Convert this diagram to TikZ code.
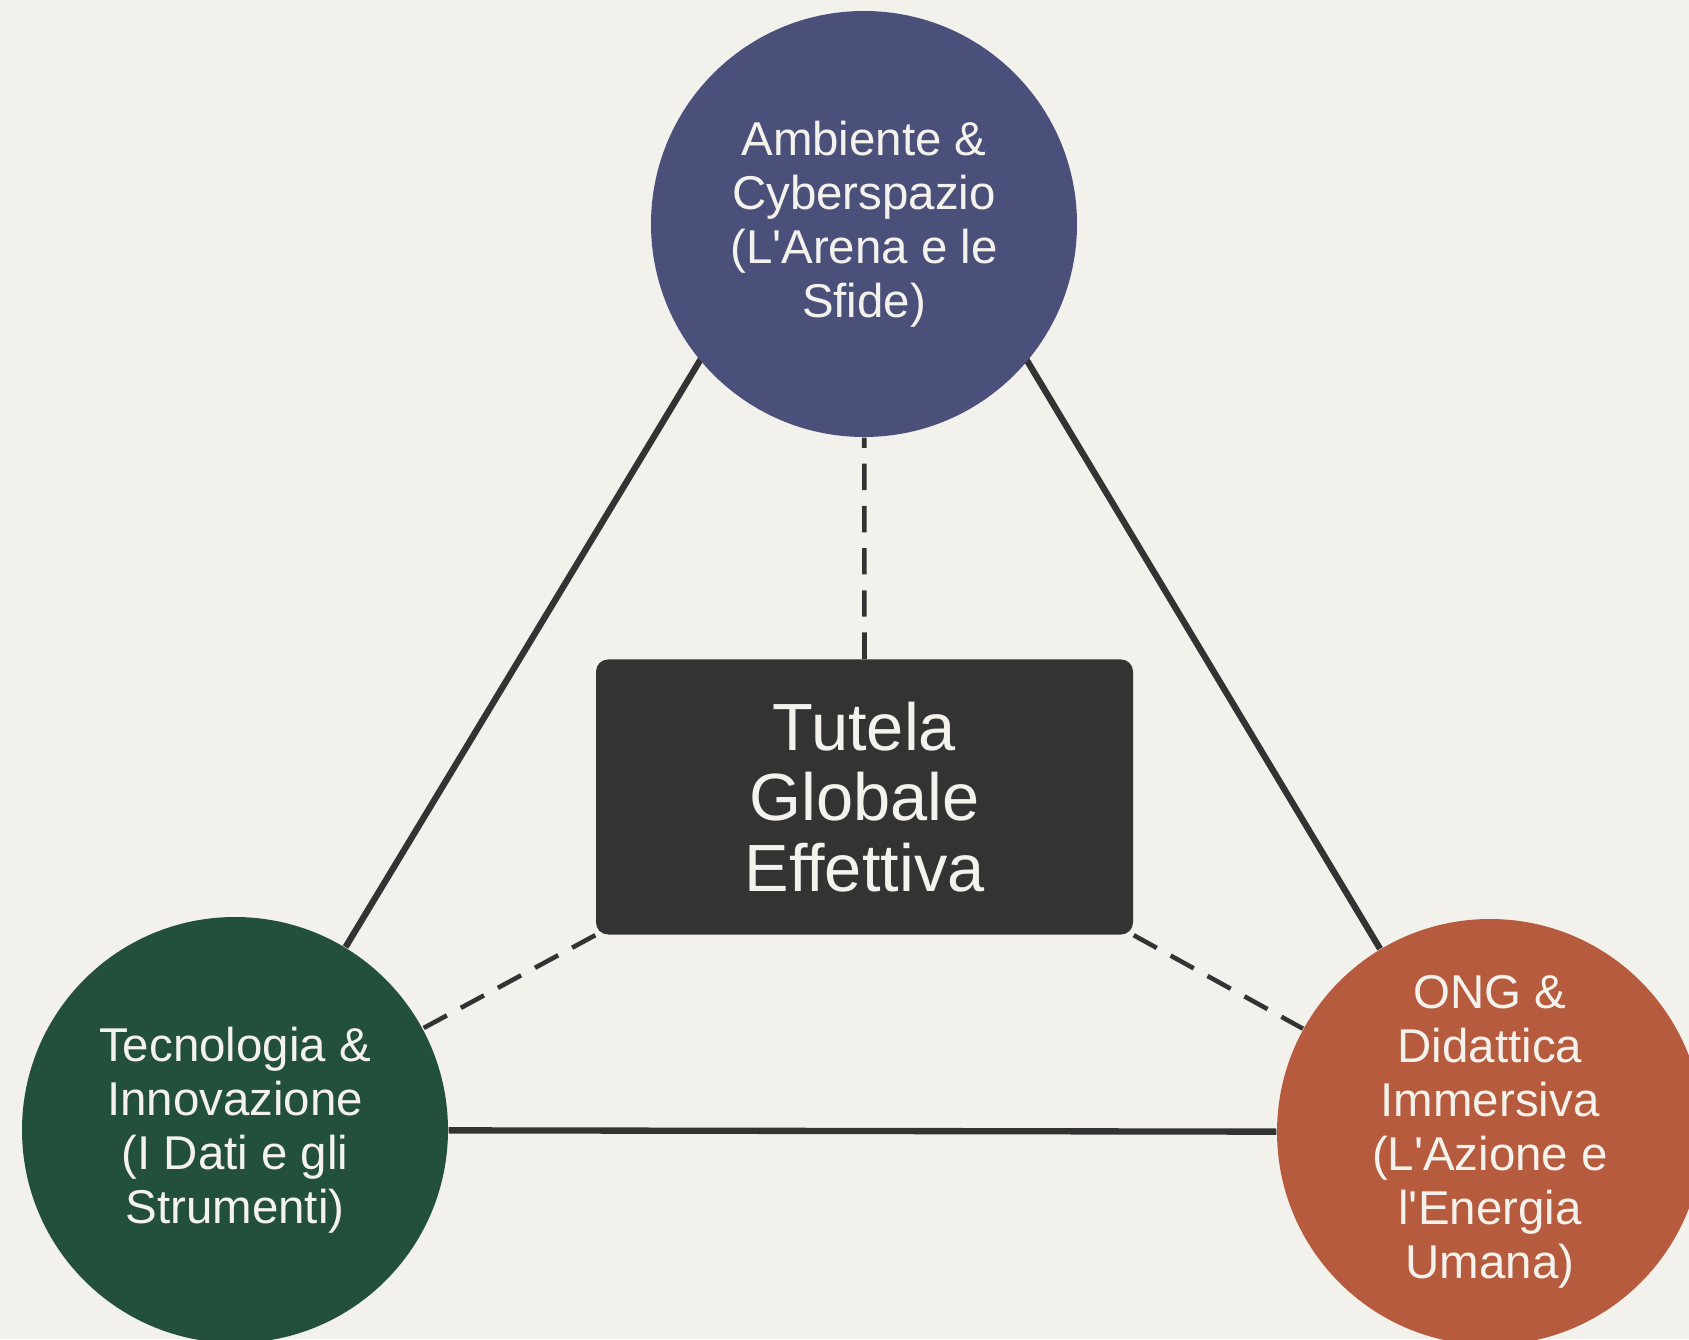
\documentclass[tikz,border=0pt]{standalone}
\usepackage{fontspec}
\setmainfont{Liberation Sans}
\usetikzlibrary{shapes.geometric}
\definecolor{paper}{HTML}{F2F1EC}
\definecolor{ink}{HTML}{F4F2EC}
\definecolor{coal}{HTML}{333333}
\definecolor{slate}{HTML}{4A5079}
\definecolor{forest}{HTML}{23503A}
\definecolor{rust}{HTML}{B65B3D}
\tikzstyle{pillar} = [circle, minimum size=42.6mm, inner sep=0pt, align=center, text=ink, font=\fontsize{13.5}{15.4}\selectfont]
\tikzstyle{hub} = [rectangle, rounded corners=1.2mm, minimum width=53.7mm, minimum height=27.5mm, align=center, fill=coal, text=ink, font=\fontsize{19}{20}\selectfont]
\tikzstyle{edge} = [line width=1.8pt, draw=coal]
\tikzstyle{link} = [line width=1.3pt, draw=coal, dash pattern=on 7.5pt off 4.5pt]

\begin{document}
\begin{tikzpicture}
		\fill [paper] (0,0) rectangle (16.89,13.39);
		\useasboundingbox (0,0) rectangle (16.89,13.39);
		%\node (title) {};
		\node (p1) [pillar, fill=forest] at (2.35,2.09) {Tecnologia \&\\Innovazione\\(I Dati e gli\\Strumenti)};
		\node (p2) [pillar, fill=rust] at (14.90,2.07) {ONG \&\\Didattica\\Immersiva\\(L\textquotesingle Azione e\\l\textquotesingle Energia\\Umana)};
		\node (c0) [hub] at (8.645,5.42) {Tutela\\Globale\\Effettiva};
		\coordinate (apex) at (8.64,12.50);
		
		\draw [edge] (p1) -- (apex);
		\draw [edge] (p2) -- (apex);
		\draw [edge] (p1) -- (p2);
		
		% top circle covers the apex
		\node (p0) [pillar, fill=slate] at (8.64,11.15) {Ambiente \&\\Cyberspazio\\(L\textquotesingle Arena e le\\Sfide)};
		
		\draw [link] (c0.north) -- (p0);
		\draw [link] (c0.south west) -- (p1);
		\draw [link] (c0.south east) -- (p2);
			
\end{tikzpicture}
\end{document}
